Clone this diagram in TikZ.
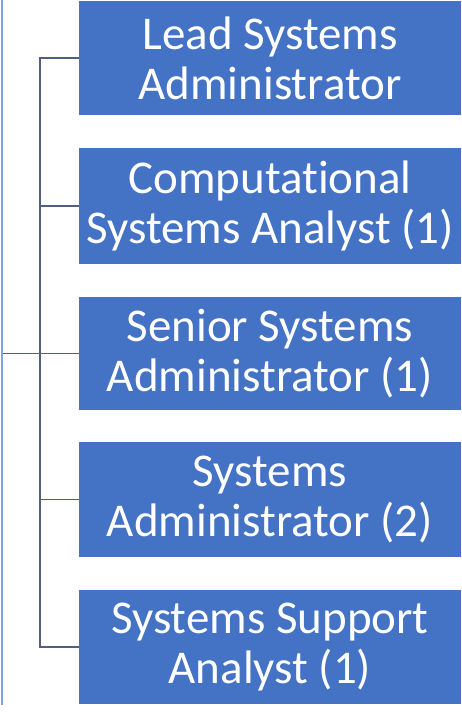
\documentclass[tikz,border=0pt]{standalone}
\usepackage{fontspec}
\setmainfont[Ligatures=NoCommon]{Carlito}
\definecolor{boxblue}{HTML}{4472C4}
\definecolor{connc}{HTML}{525E80}
\definecolor{edgeblue}{HTML}{7FA3DE}
\begin{document}
\begin{tikzpicture}[x=1pt,y=-1pt,
  rolebox/.style={fill=boxblue,draw=none,text=white,minimum width=382pt,inner sep=0pt,
    align=center,font=\fontsize{47}{50}\selectfont},
  conn/.style={draw=connc,line width=1.5pt},
  leftline/.style={draw=edgeblue,line width=2pt}]
\useasboundingbox (0,0) rectangle (462,714);
\fill[white] (0,0) rectangle (462,714);
\node[rolebox,minimum height=114pt] (b1) at (270,58) {Lead Systems\\Administrator};
\node[rolebox,minimum height=116pt] (b2) at (270,206) {Computational\\Systems Analyst (1)};
\node[rolebox,minimum height=113pt] (b3) at (270,353.5) {Senior Systems\\Administrator (1)};
\node[rolebox,minimum height=115pt] (b4) at (270,499.5) {Systems\\Administrator (2)};
\node[rolebox,minimum height=114pt] (b5) at (270,647) {Systems Support\\Analyst (1)};
\coordinate (lt) at (1.5,0);
\coordinate (lb) at (1.5,705);
\coordinate (spine) at (40,0);
\coordinate (root) at (3,353.5);
\draw[leftline] (lt) -- (lb);
\draw[conn] (b1.west) -- (b1.west -| spine) -- (b5.west -| spine) -- (b5.west);
\draw[conn] (b2.west) -- (b2.west -| spine);
\draw[conn] (b4.west) -- (b4.west -| spine);
\draw[conn] (root) -- (b3.west);
\end{tikzpicture}
\end{document}
